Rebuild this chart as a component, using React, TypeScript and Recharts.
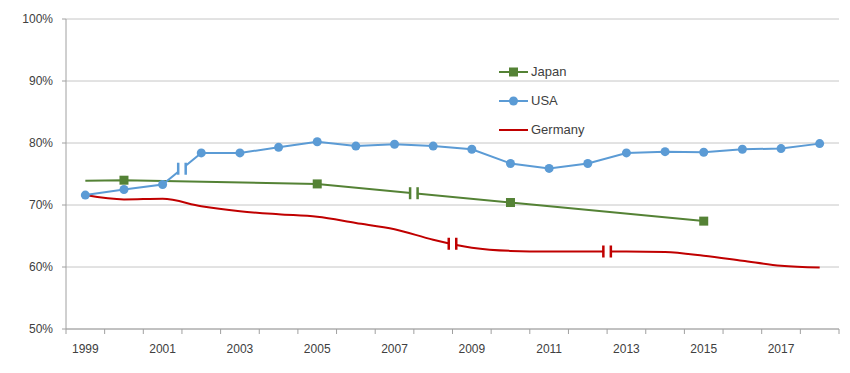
import React from "react";
import {
  LineChart,
  Line,
  XAxis,
  YAxis,
  CartesianGrid,
  Legend,
  ReferenceDot,
} from "recharts";

// Reading of the chart, one value per year
const years = [
  1999, 2000, 2001, 2002, 2003, 2004, 2005, 2006, 2007, 2008, 2009, 2010,
  2011, 2012, 2013, 2014, 2015, 2016, 2017, 2018,
];
const usaValues = [
  71.6, 72.5, 73.3, 78.4, 78.4, 79.3, 80.2, 79.5, 79.8, 79.5, 79.0, 76.7,
  75.9, 76.7, 78.4, 78.6, 78.5, 79.0, 79.1, 79.9,
];
const germanyValues = [
  71.6, 70.9, 71.0, 69.8, 69.0, 68.5, 68.1, 67.1, 66.1, 64.4, 63.1, 62.6,
  62.5, 62.5, 62.5, 62.4, 61.8, 61.0, 60.2, 59.9,
];
const japanYears = [1999, 2000, 2005, 2010, 2015];
const japanValues = [73.9, 74.0, 73.4, 70.4, 67.4];

// where the series have a break in the time series
const usaBreaks = [2001.5];
const japanBreaks = [2007.5];
const germanyBreaks = [2008.5, 2012.5];

const yTicks = [50, 60, 70, 80, 90, 100];
const labelYears = [1999, 2001, 2003, 2005, 2007, 2009, 2011, 2013, 2015, 2017];

const JAPAN = "#548235";
const USA = "#5b9bd5";
const GERMANY = "#c00000";
const TEXT = "#404040";
const FONT = "'Liberation Sans', Arial, sans-serif";

const usaData = years.map((year, i) => ({ year, value: usaValues[i] }));
const germanyData = years.map((year, i) => ({ year, value: germanyValues[i] }));
const japanData = japanYears.map((year, i) => ({ year, value: japanValues[i] }));

// category boundaries for the tick marks
const boundaryTicks = [...years.map((y) => y - 0.5), years[years.length - 1] + 0.5];

// value on the line at a break position (linear between neighbours)
function valueAt(data: { year: number; value: number }[], x: number): number {
  for (let i = 0; i < data.length - 1; i++) {
    const a = data[i];
    const b = data[i + 1];
    if (x >= a.year && x <= b.year) {
      return a.value + ((b.value - a.value) * (x - a.year)) / (b.year - a.year);
    }
  }
  return data[data.length - 1].value;
}

function BreakMark(props: any) {
  const { cx, cy, color } = props;
  if (cx == null || cy == null) return null;
  return (
    <g>
      <rect x={cx - 3} y={cy - 4} width={6} height={8} fill="#fff" />
      <rect x={cx - 5} y={cy - 6} width={2.5} height={12} fill={color} />
      <rect x={cx + 2.5} y={cy - 6} width={2.5} height={12} fill={color} />
    </g>
  );
}

function JapanDot(props: any) {
  const { cx, cy, payload } = props;
  // no marker on the first (1999) point
  if (payload.year === japanYears[0]) return <g key={`jd-${payload.year}`} />;
  return (
    <rect
      key={`jd-${payload.year}`}
      x={cx - 4.5}
      y={cy - 4.5}
      width={9}
      height={9}
      fill={JAPAN}
    />
  );
}

const legendItems = [
  { name: "Japan", color: JAPAN, marker: "square" },
  { name: "USA", color: USA, marker: "circle" },
  { name: "Germany", color: GERMANY, marker: "none" },
];

function LegendContent() {
  return (
    <div style={{ fontFamily: FONT, fontSize: 13, color: TEXT }}>
      {legendItems.map((item) => (
        <div
          key={item.name}
          style={{ display: "flex", alignItems: "center", height: 29 }}
        >
          <svg width={31} height={12} style={{ marginRight: 2 }}>
            <line x1={1} y1={6} x2={30} y2={6} stroke={item.color} strokeWidth={2} />
            {item.marker === "square" && (
              <rect x={11} y={1.5} width={9} height={9} fill={item.color} />
            )}
            {item.marker === "circle" && (
              <circle cx={15.5} cy={6} r={4.5} fill={item.color} />
            )}
          </svg>
          <span>{item.name}</span>
        </div>
      ))}
    </div>
  );
}

export default function App() {
  return (
    <div style={{ position: "absolute", left: 0, top: 0, background: "#fff" }}>
      <LineChart
        width={850}
        height={373}
        margin={{ top: 19, right: 11, left: 0, bottom: 14 }}
      >
        <CartesianGrid xAxisId="a" vertical={false} stroke="#c6c6c6" />
        {/* tick marks on the category boundaries */}
        <XAxis
          xAxisId="a"
          type="number"
          dataKey="year"
          domain={[1998.5, 2018.5]}
          ticks={boundaryTicks}
          interval={0}
          tickFormatter={() => ""}
          height={1}
          tickSize={5}
          stroke="#a0a0a0"
        />
        {/* year labels, every second category */}
        <XAxis
          xAxisId="b"
          type="number"
          dataKey="year"
          domain={[1998.5, 2018.5]}
          ticks={labelYears}
          interval={0}
          height={29}
          axisLine={false}
          tickLine={false}
          tickSize={5}
          tickMargin={9}
          tick={{ fill: TEXT, fontSize: 12, fontFamily: FONT }}
        />
        <YAxis
          domain={[50, 100]}
          ticks={yTicks}
          interval={0}
          width={66}
          tickFormatter={(v) => `${v}%`}
          stroke="#a0a0a0"
          tickSize={4}
          tickMargin={9}
          tick={{ fill: TEXT, fontSize: 12, fontFamily: FONT }}
        />
        <Legend
          layout="vertical"
          align="center"
          verticalAlign="middle"
          content={() => <LegendContent />}
          wrapperStyle={{ left: 498, top: 57, width: 130 }}
        />
        <Line
          xAxisId="a"
          data={germanyData}
          dataKey="value"
          type="monotone"
          stroke={GERMANY}
          strokeWidth={2}
          dot={false}
          isAnimationActive={false}
        />
        <Line
          xAxisId="a"
          data={japanData}
          dataKey="value"
          type="linear"
          stroke={JAPAN}
          strokeWidth={2}
          dot={JapanDot}
          activeDot={false}
          isAnimationActive={false}
        />
        <Line
          xAxisId="a"
          data={usaData}
          dataKey="value"
          type="linear"
          stroke={USA}
          strokeWidth={2}
          dot={{ r: 4.5, fill: USA, stroke: USA, strokeWidth: 0 }}
          activeDot={false}
          isAnimationActive={false}
        />
        {/* invisible series so the label axis has data of its own */}
        <Line
          xAxisId="b"
          data={usaData}
          dataKey="value"
          stroke="none"
          dot={false}
          activeDot={false}
          isAnimationActive={false}
        />
        {usaBreaks.map((x) => (
          <ReferenceDot
            key={`ub-${x}`}
            xAxisId="a"
            x={x}
            y={valueAt(usaData, x)}
            shape={(p: any) => <BreakMark {...p} color={USA} />}
          />
        ))}
        {japanBreaks.map((x) => (
          <ReferenceDot
            key={`jb-${x}`}
            xAxisId="a"
            x={x}
            y={valueAt(japanData, x)}
            shape={(p: any) => <BreakMark {...p} color={JAPAN} />}
          />
        ))}
        {germanyBreaks.map((x) => (
          <ReferenceDot
            key={`gb-${x}`}
            xAxisId="a"
            x={x}
            y={valueAt(germanyData, x)}
            shape={(p: any) => <BreakMark {...p} color={GERMANY} />}
          />
        ))}
      </LineChart>
    </div>
  );
}
